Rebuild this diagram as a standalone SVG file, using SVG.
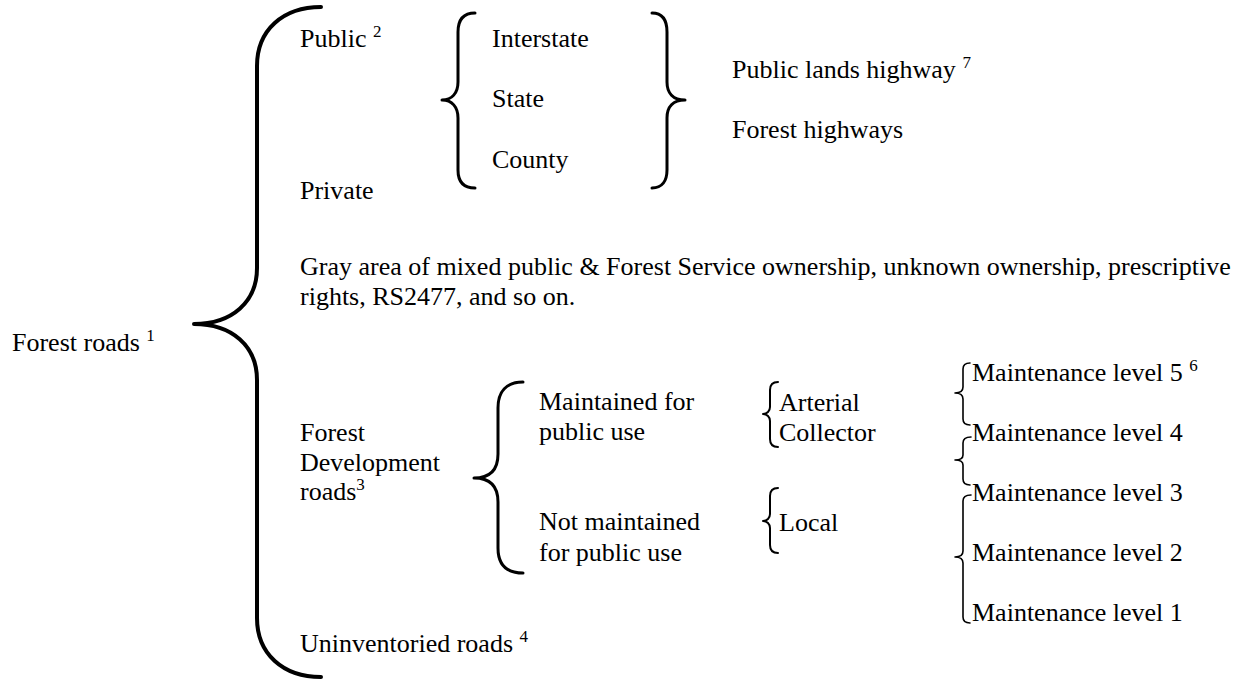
<svg xmlns="http://www.w3.org/2000/svg" width="1260" height="679" viewBox="0 0 1260 679">
<rect width="1260" height="679" fill="#fff"/>
<g id="connectors" fill="none" stroke="#000" stroke-linecap="round" stroke-linejoin="round">
<path stroke-width="4" d="M321,7 C283,7 257,30 257,66 L257,268 C257,302 232,324 194,324 C232,324 257,346 257,380 L257,618 C257,654 283,677 321,677"/>
<path stroke-width="3" d="M475,13 C463,13 458,20 458,32 L458,82 C458,93 452,100 442,100 C452,100 458,107 458,118 L458,170 C458,181 463,188 475,188"/>
<path stroke-width="3" d="M652,13 C662,13 667,20 667,32 L667,82 C667,93 673,100 685,100 C673,100 667,107 667,118 L667,170 C667,181 662,188 652,188"/>
<path stroke-width="3" d="M523,382 C506,382 498,392 498,408 L498,454 C498,470 490,478 474,478 C490,478 498,486 498,502 L498,548 C498,564 506,573 523,573"/>
<path stroke-width="2" d="M778,382 C773,382 770,385 770,390 L770,407 C770,411 767,414 763,414 C767,414 770,417 770,421 L770,439 C770,444 773,447 778,447"/>
<path stroke-width="2" d="M778,488 C773,488 770,491 770,496 L770,514 C770,518 767,521 763,521 C767,521 770,524 770,528 L770,545 C770,550 773,553 778,553"/>
<path stroke-width="1.6" d="M970,363 C966,363 963,365 963,369 L963,387 C963,391 960,393 955,393 C960,393 963,395 963,399 L963,419 C963,423 966,425 970,425"/>
<path stroke-width="1.6" d="M971,437 C966,437 963,439 963,443 L963,455 C963,458 960,460 955,460 C960,460 963,462 963,465 L963,479 C963,483 966,485 970,485"/>
<path stroke-width="1.6" d="M971,495 C966,495 963,497 963,501 L963,551 C963,555 960,557 955,557 C960,557 963,559 963,563 L963,617 C963,621 966,623 970,623"/>
</g>
<g id="forest-roads"><text x="12" y="351" style="font-family:'Liberation Serif',serif;font-size:26px">Forest roads <tspan style="font-size:17px" dy="-10">1</tspan></text></g>
<g id="public"><text x="300" y="47" style="font-family:'Liberation Serif',serif;font-size:26px">Public <tspan style="font-size:17px" dy="-10">2</tspan></text></g>
<g id="private"><text x="300" y="199" style="font-family:'Liberation Serif',serif;font-size:26px">Private</text></g>
<g id="interstate"><text x="492" y="47" style="font-family:'Liberation Serif',serif;font-size:26px">Interstate</text></g>
<g id="state"><text x="492" y="107" style="font-family:'Liberation Serif',serif;font-size:26px">State</text></g>
<g id="county"><text x="492" y="168" style="font-family:'Liberation Serif',serif;font-size:26px">County</text></g>
<g id="public-lands"><text x="732" y="78" style="font-family:'Liberation Serif',serif;font-size:26px">Public lands highway <tspan style="font-size:17px" dy="-10">7</tspan></text></g>
<g id="forest-highways"><text x="732" y="138" style="font-family:'Liberation Serif',serif;font-size:26px">Forest highways</text></g>
<g id="gray-area"><text x="300" y="275" style="font-family:'Liberation Serif',serif;font-size:26px">Gray area of mixed public &amp; Forest Service ownership, unknown ownership, prescriptive</text><text x="300" y="305" style="font-family:'Liberation Serif',serif;font-size:26px">rights, RS2477, and so on.</text></g>
<g id="fd-roads"><text x="300" y="441" style="font-family:'Liberation Serif',serif;font-size:26px">Forest</text><text x="300" y="470.5" style="font-family:'Liberation Serif',serif;font-size:26px">Development</text><text x="300" y="500" style="font-family:'Liberation Serif',serif;font-size:26px">roads<tspan style="font-size:17px" dy="-10">3</tspan></text></g>
<g id="maintained"><text x="539" y="410" style="font-family:'Liberation Serif',serif;font-size:26px">Maintained for</text><text x="539" y="440" style="font-family:'Liberation Serif',serif;font-size:26px">public use</text></g>
<g id="not-maintained"><text x="539" y="530" style="font-family:'Liberation Serif',serif;font-size:26px">Not maintained</text><text x="539" y="561" style="font-family:'Liberation Serif',serif;font-size:26px">for public use</text></g>
<g id="arterial"><text x="779" y="411" style="font-family:'Liberation Serif',serif;font-size:26px">Arterial</text></g>
<g id="collector"><text x="779" y="441" style="font-family:'Liberation Serif',serif;font-size:26px">Collector</text></g>
<g id="local"><text x="779" y="531" style="font-family:'Liberation Serif',serif;font-size:26px">Local</text></g>
<g id="ml5"><text x="972" y="381" style="font-family:'Liberation Serif',serif;font-size:26px">Maintenance level 5 <tspan style="font-size:17px" dy="-10">6</tspan></text></g>
<g id="ml4"><text x="972" y="441" style="font-family:'Liberation Serif',serif;font-size:26px">Maintenance level 4</text></g>
<g id="ml3"><text x="972" y="501" style="font-family:'Liberation Serif',serif;font-size:26px">Maintenance level 3</text></g>
<g id="ml2"><text x="972" y="561" style="font-family:'Liberation Serif',serif;font-size:26px">Maintenance level 2</text></g>
<g id="ml1"><text x="972" y="621" style="font-family:'Liberation Serif',serif;font-size:26px">Maintenance level 1</text></g>
<g id="uninventoried"><text x="300" y="652" style="font-family:'Liberation Serif',serif;font-size:26px">Uninventoried roads <tspan style="font-size:17px" dy="-10">4</tspan></text></g>
</svg>
